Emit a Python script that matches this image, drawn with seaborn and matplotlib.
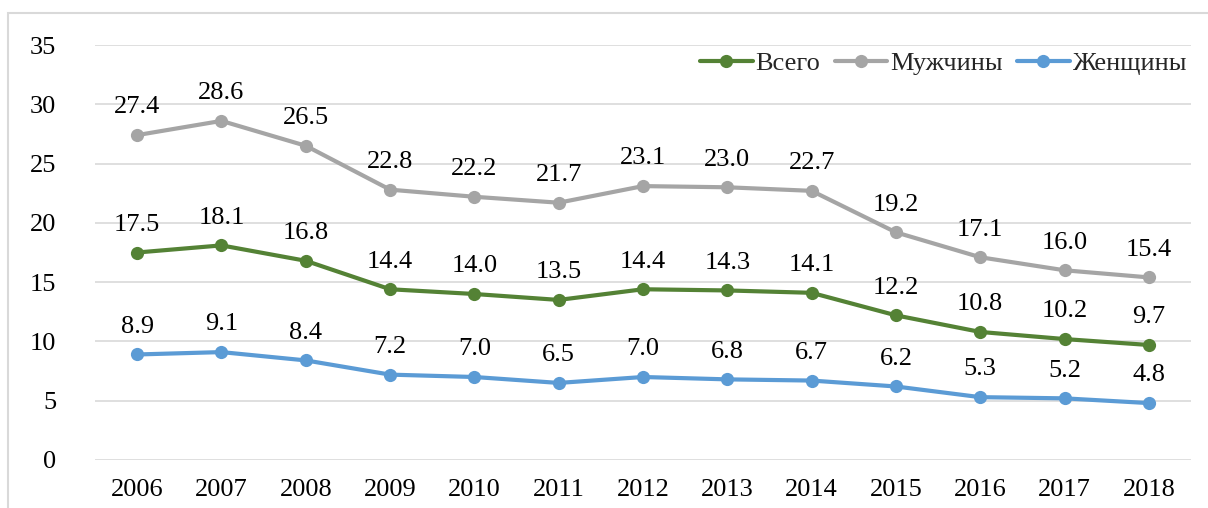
import matplotlib
matplotlib.use("Agg")
import matplotlib.pyplot as plt
import seaborn as sns
import pandas as pd
from matplotlib.patches import Rectangle
from matplotlib.lines import Line2D

years = ["2006", "2007", "2008", "2009", "2010", "2011", "2012", "2013", "2014", "2015", "2016", "2017", "2018"]
total = [17.5, 18.1, 16.8, 14.4, 14.0, 13.5, 14.4, 14.3, 14.1, 12.2, 10.8, 10.2, 9.7]
men = [27.4, 28.6, 26.5, 22.8, 22.2, 21.7, 23.1, 23.0, 22.7, 19.2, 17.1, 16.0, 15.4]
women = [8.9, 9.1, 8.4, 7.2, 7.0, 6.5, 7.0, 6.8, 6.7, 6.2, 5.3, 5.2, 4.8]
series_names = ["Всего", "Мужчины", "Женщины"]
colors = ["#548235", "#A5A5A5", "#5B9BD5"]

sns.set_theme(style="white")
FAM = ["Liberation Serif", "DejaVu Serif"]
plt.rcParams["font.serif"] = FAM
plt.rcParams["font.family"] = FAM
FS = 19

rows = []
for name, vals in zip(series_names, [total, men, women]):
    for i, (y, v) in enumerate(zip(years, vals)):
        rows.append({"idx": i, "year": y, "value": v, "series": name})
df = pd.DataFrame(rows)

fig = plt.figure(figsize=(12.08, 5.08), dpi=100)
W, H = 1208, 508
ax = fig.add_axes([95 / W, (H - 460) / H, (1191 - 95) / W, (460 - 45) / H])

fig.patches.append(Rectangle((8 / W, -0.1), 1.2, (H - 13) / H + 0.1, transform=fig.transFigure,
                             fill=False, edgecolor="#D9D9D9", linewidth=1.5, zorder=0))

sns.lineplot(data=df, x="idx", y="value", hue="series", hue_order=series_names,
             palette=colors, marker="o", markersize=9.5, markeredgewidth=0,
             linewidth=3, ax=ax, legend=False, zorder=3)

for name, vals, c in zip(series_names, [total, men, women], colors):
    for i, v in enumerate(vals):
        ax.annotate(f"{v:.1f}", (i, v), xytext=(0, 12), textcoords="offset points",
                    ha="center", va="bottom", fontsize=FS, color="black", family=FAM)

ax.set_xlim(-0.5, len(years) - 0.5)
ax.set_ylim(0, 35)
ax.set_yticks(range(0, 36, 5))
ax.set_xticks(range(len(years)))
ax.set_xticklabels(years)
ax.tick_params(axis="both", labelsize=FS, length=0, colors="black")
ax.tick_params(axis="x", pad=14)
ax.tick_params(axis="y", pad=28)
for lab in ax.get_xticklabels() + ax.get_yticklabels():
    lab.set_family(FAM)
ax.grid(axis="y", color="#D9D9D9", linewidth=1.2)
ax.grid(axis="x", visible=False)
for s in ax.spines.values():
    s.set_visible(False)
ax.set_xlabel("")
ax.set_ylabel("")
ax.patch.set_alpha(0)

handles = [Line2D([], [], color=c, linewidth=3, marker="o", markersize=9.5, markeredgewidth=0) for c in colors]
ax.legend(handles, series_names, loc="upper right", bbox_to_anchor=(1.006, 1.01), ncol=3,
          frameon=False, prop={"family": FAM, "size": FS}, handlelength=2.0, handletextpad=0.1,
          columnspacing=0.55, borderaxespad=0.0)

fig.savefig("out.png", dpi=100)
